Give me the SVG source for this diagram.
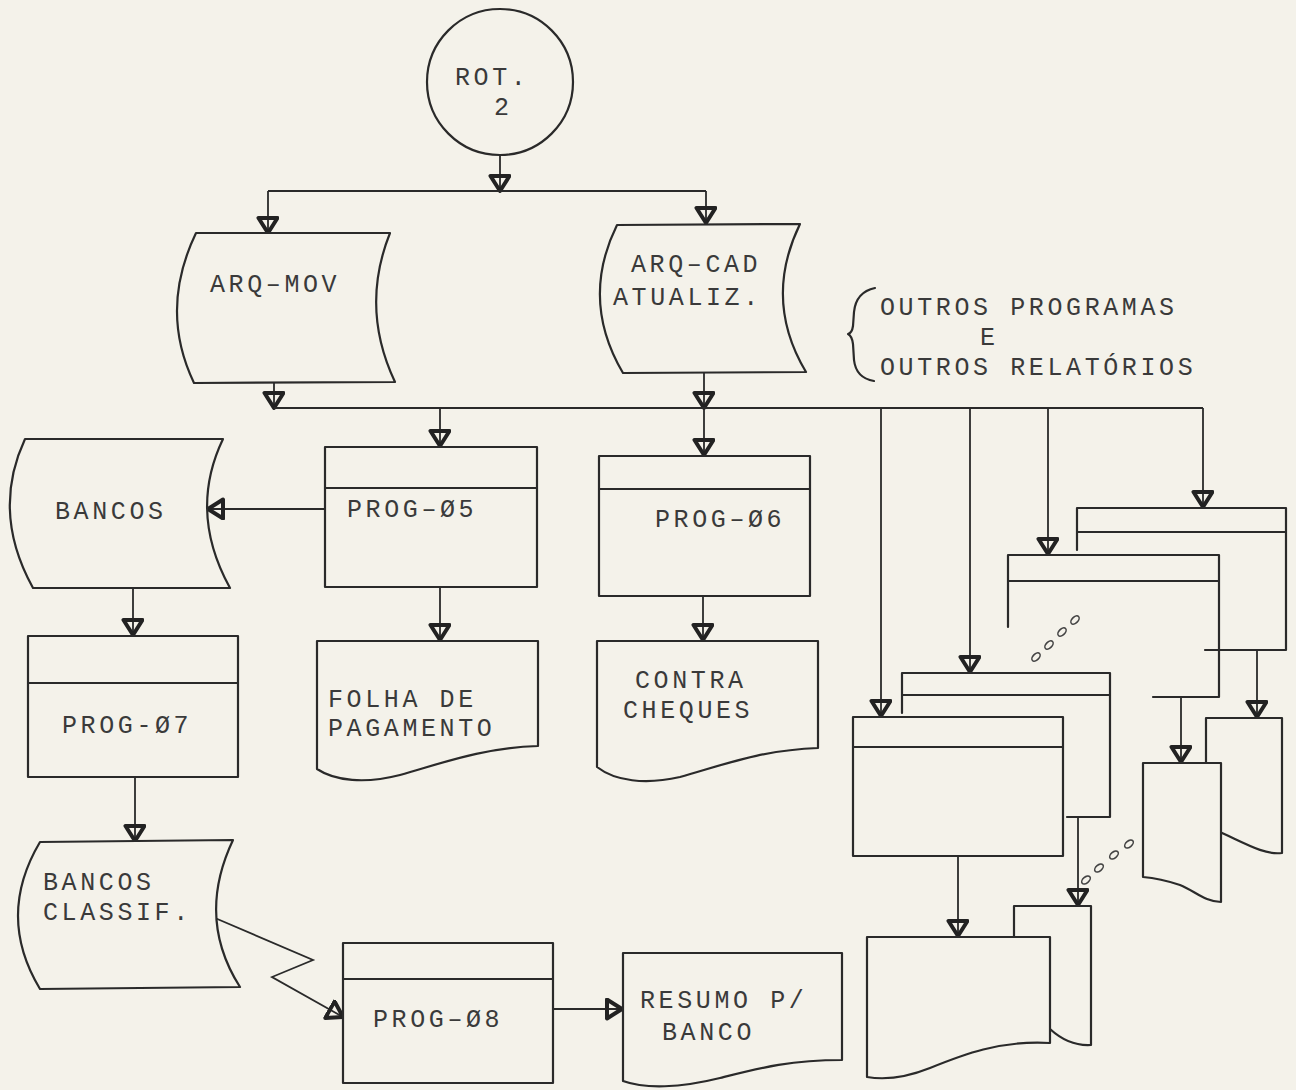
<svg xmlns="http://www.w3.org/2000/svg" width="1296" height="1090" viewBox="0 0 1296 1090">
<defs>
<marker id="ah" markerUnits="userSpaceOnUse" markerWidth="30" markerHeight="30" refX="17" refY="11" orient="auto">
<path d="M2,1.5 L17,11 L2,20.5 Z" fill="none" stroke="#222" stroke-width="4" stroke-linejoin="round"/>
</marker>
<style>
.s{fill:none;stroke:#2a2a2a;stroke-width:2.2;stroke-linejoin:round;stroke-linecap:round}
.f{fill:#f4f2ea;stroke:#2a2a2a;stroke-width:2.2;stroke-linejoin:round}
.c{fill:none;stroke:#2a2a2a;stroke-width:1.8;marker-end:url(#ah)}
.l{fill:none;stroke:#2a2a2a;stroke-width:1.8}
.t{font-family:"Liberation Mono","DejaVu Sans Mono",monospace;font-size:25px;letter-spacing:3.6px;fill:#3a3a3a}
.o{fill:none;stroke:#444;stroke-width:1.6}
</style>
</defs>
<rect x="0" y="0" width="1296" height="1090" fill="#f4f2ea"/>

<g id="connectors">
<path class="c" d="M500,155 V191"/>
<path class="l" d="M268,191 H706"/>
<path class="c" d="M268,191 V233"/>
<path class="c" d="M706,191 V223"/>
<path class="c" d="M274,383 V408"/>
<path class="c" d="M704,373 V408"/>
<path class="l" d="M274,408 H1203"/>
<path class="c" d="M704,408 V455"/>
<path class="c" d="M440,408 V446"/>
<path class="c" d="M881,408 V716"/>
<path class="c" d="M970,408 V672"/>
<path class="c" d="M1048,408 V554"/>
<path class="c" d="M1203,408 V507"/>
<path class="c" d="M325,509 H208"/>
<path class="c" d="M440,587 V640"/>
<path class="c" d="M703,596 V640"/>
<path class="c" d="M133,588 V635"/>
<path class="c" d="M135,777 V841"/>
<path class="c" d="M215,918 L313,960 L272,977 L343,1017"/>
<path class="c" d="M553,1009 H622"/>
<path class="c" d="M1257,650 V717"/>
<path class="c" d="M1181,697 V762"/>
<path class="c" d="M1078,817 V905"/>
<path class="c" d="M958,856 V936"/>
</g>

<g id="rot2">
<circle class="f" cx="500" cy="82" r="73"/>
<text class="t" x="455" y="85">ROT.</text>
<text class="t" x="494" y="115">2</text>
</g>

<g id="arq-mov">
<path class="f" d="M196,233 L390,233 Q360,308 395,382 L194,383 Q159,310 196,233 Z"/>
<text class="t" x="210" y="292">ARQ–MOV</text>
</g>

<g id="arq-cad">
<path class="f" d="M617,225 L800,224 Q763,300 806,372 L623,373 Q580,300 617,225 Z"/>
<text class="t" x="631" y="272">ARQ–CAD</text>
<text class="t" x="613" y="305">ATUALIZ.</text>
</g>

<g id="outros">
<path class="s" d="M875,288 Q856,292 854,312 L853,326 Q852,333 848,334 Q852,336 853,344 L854,360 Q856,378 874,381"/>
<text class="t" x="880" y="315">OUTROS PROGRAMAS</text>
<text class="t" x="980" y="345">E</text>
<text class="t" x="880" y="375">OUTROS RELATÓRIOS</text>
</g>

<g id="bancos">
<path class="f" d="M25,439 L223,439 Q188,512 230,588 L33,588 Q-9,512 25,439 Z"/>
<text class="t" x="55" y="519">BANCOS</text>
</g>

<g id="prog05">
<rect class="f" x="325" y="447" width="212" height="140"/>
<path class="s" d="M325,488 H537"/>
<text class="t" x="347" y="517">PROG–Ø5</text>
</g>

<g id="prog06">
<rect class="f" x="599" y="456" width="211" height="140"/>
<path class="s" d="M599,489 H810"/>
<text class="t" x="655" y="527">PROG–Ø6</text>
</g>

<g id="folha">
<path class="f" d="M317,641 H538 V746 C480,748 440,764 400,775 C365,784 335,781 317,769 Z"/>
<text class="t" x="328" y="707">FOLHA DE</text>
<text class="t" x="328" y="736">PAGAMENTO</text>
</g>

<g id="contra">
<path class="f" d="M597,641 H818 V748 C760,750 720,766 680,777 C645,785 615,781 597,767 Z"/>
<text class="t" x="635" y="688">CONTRA</text>
<text class="t" x="623" y="718">CHEQUES</text>
</g>

<g id="prog07">
<rect class="f" x="28" y="636" width="210" height="141"/>
<path class="s" d="M28,683 H238"/>
<text class="t" x="62" y="733">PROG-Ø7</text>
</g>

<g id="bancos-classif">
<path class="f" d="M40,842 L233,840 Q196,918 240,987 L40,989 Q-4,916 40,842 Z"/>
<text class="t" x="43" y="890">BANCOS</text>
<text class="t" x="43" y="920">CLASSIF.</text>
</g>

<g id="prog08">
<rect class="f" x="343" y="943" width="210" height="140"/>
<path class="s" d="M343,979 H553"/>
<text class="t" x="373" y="1027">PROG–Ø8</text>
</g>

<g id="resumo">
<path class="f" d="M623,953 H842 V1060 C790,1060 760,1068 720,1078 C680,1088 645,1089 623,1081 Z"/>
<text class="t" x="640" y="1008">RESUMO P/</text>
<text class="t" x="662" y="1040">BANCO</text>
</g>

<g id="prog-a">
<path class="s" d="M1077,550 V508 H1286 V650 H1205"/>
<path class="s" d="M1077,532 H1286"/>
</g>
<g id="prog-b">
<path class="s" d="M1008,627 V555 H1219 V697 H1153"/>
<path class="s" d="M1008,581 H1219"/>
</g>
<g id="prog-c">
<path class="s" d="M902,713 V673 H1110 V817 H1067"/>
<path class="s" d="M902,695 H1110"/>
</g>
<g id="prog-d">
<rect class="f" x="853" y="717" width="210" height="139"/>
<path class="s" d="M853,747 H1063"/>
</g>

<g id="rel-a">
<path class="s" d="M1206,763 V718 H1282 V853 C1265,855 1248,845 1222,833"/>
</g>
<g id="rel-b">
<path class="f" d="M1143,763 H1221 V902 C1205,902 1195,891 1180,885 C1165,880 1155,878 1143,877 Z"/>
</g>
<g id="rel-c">
<path class="s" d="M1014,937 V906 H1091 V1045 C1075,1046 1062,1040 1050,1029"/>
</g>
<g id="rel-d">
<path class="f" d="M867,937 H1050 V1043 C1000,1040 962,1055 930,1068 C905,1078 885,1080 867,1077 Z"/>
</g>

<g id="etc">
<ellipse class="o" cx="1036" cy="657" rx="5" ry="3" transform="rotate(-45 1036 657)"/>
<ellipse class="o" cx="1049" cy="645" rx="5" ry="3" transform="rotate(-45 1049 645)"/>
<ellipse class="o" cx="1062" cy="632" rx="5" ry="3" transform="rotate(-45 1062 632)"/>
<ellipse class="o" cx="1075" cy="620" rx="5" ry="3" transform="rotate(-45 1075 620)"/>
<ellipse class="o" cx="1086" cy="880" rx="5" ry="3" transform="rotate(-40 1086 880)"/>
<ellipse class="o" cx="1099" cy="868" rx="5" ry="3" transform="rotate(-40 1099 868)"/>
<ellipse class="o" cx="1114" cy="855" rx="5" ry="3" transform="rotate(-40 1114 855)"/>
<ellipse class="o" cx="1129" cy="844" rx="5" ry="3" transform="rotate(-40 1129 844)"/>
</g>
</svg>
